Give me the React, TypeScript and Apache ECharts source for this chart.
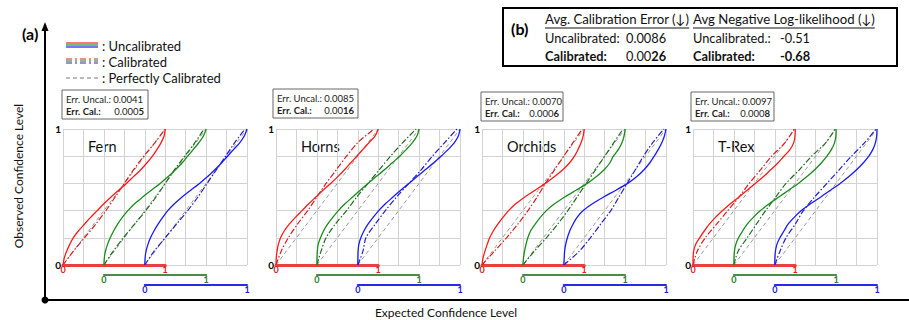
import React, { useEffect, useRef } from 'react';
import * as echarts from 'echarts';

const FONT = 'Lato, "Open Sans", sans-serif';

// Observed confidence levels (y values) for the uncalibrated curves
const OBS_UNCAL = [0, 0.05, 0.1, 0.15, 0.2, 0.25, 0.3, 0.35, 0.4, 0.45, 0.5, 0.55, 0.6, 0.65, 0.7, 0.75, 0.8, 0.85, 0.9, 0.95, 1];
// Observed confidence levels (y values) for the calibrated curves
const OBS_CAL = [0, 0.1, 0.2, 0.3, 0.4, 0.5, 0.6, 0.7, 0.8, 0.9, 1];

// Expected confidence (x values) at each observed level
const fernUncalR = [0, 0.012, 0.035, 0.065, 0.1, 0.15, 0.21, 0.27, 0.335, 0.4, 0.47, 0.545, 0.62, 0.69, 0.76, 0.82, 0.875, 0.92, 0.96, 0.99, 1];
const fernUncalG = [0, 0.004, 0.015, 0.035, 0.062, 0.095, 0.135, 0.18, 0.235, 0.3, 0.38, 0.465, 0.55, 0.63, 0.7, 0.765, 0.82, 0.875, 0.93, 0.975, 1];
const fernUncalB = [0, 0.003, 0.012, 0.03, 0.056, 0.09, 0.13, 0.175, 0.225, 0.29, 0.365, 0.45, 0.535, 0.615, 0.685, 0.75, 0.81, 0.87, 0.93, 0.975, 1];
const fernCalR = [0, 0.1, 0.21, 0.32, 0.42, 0.51, 0.6, 0.69, 0.79, 0.9, 1];
const fernCalG = [0, 0.09, 0.19, 0.3, 0.41, 0.51, 0.6, 0.69, 0.79, 0.89, 0.98];
const fernCalB = [0, 0.09, 0.2, 0.31, 0.42, 0.52, 0.61, 0.7, 0.79, 0.88, 0.98];

const hornsUncalR = [0, 0.002, 0.01, 0.022, 0.045, 0.08, 0.13, 0.19, 0.255, 0.32, 0.39, 0.46, 0.535, 0.605, 0.67, 0.73, 0.79, 0.85, 0.91, 0.97, 1];
const hornsUncalG = [0, 0.001, 0.004, 0.012, 0.035, 0.065, 0.105, 0.155, 0.21, 0.275, 0.35, 0.425, 0.5, 0.58, 0.66, 0.735, 0.81, 0.875, 0.935, 0.98, 1];
const hornsUncalB = [0, 0.001, 0.003, 0.01, 0.03, 0.06, 0.1, 0.15, 0.205, 0.27, 0.345, 0.42, 0.5, 0.58, 0.66, 0.74, 0.815, 0.885, 0.945, 0.985, 1];
const hornsCalR = [0, 0.05, 0.12, 0.21, 0.31, 0.4, 0.49, 0.59, 0.69, 0.8, 0.96];
const hornsCalG = [0, 0.04, 0.09, 0.18, 0.29, 0.39, 0.5, 0.61, 0.72, 0.84, 0.97];
const hornsCalB = [0, 0.05, 0.08, 0.17, 0.27, 0.38, 0.5, 0.62, 0.73, 0.85, 0.97];

const orchidsUncalR = [0, 0.01, 0.028, 0.05, 0.075, 0.11, 0.155, 0.205, 0.26, 0.33, 0.42, 0.52, 0.62, 0.71, 0.79, 0.855, 0.905, 0.94, 0.97, 0.99, 1];
const orchidsUncalG = [0, 0.006, 0.016, 0.03, 0.048, 0.075, 0.12, 0.17, 0.23, 0.31, 0.41, 0.52, 0.63, 0.72, 0.795, 0.85, 0.885, 0.935, 0.97, 0.99, 1];
const orchidsUncalB = [0, 0.004, 0.008, 0.018, 0.035, 0.058, 0.09, 0.13, 0.19, 0.28, 0.39, 0.51, 0.625, 0.715, 0.785, 0.84, 0.885, 0.925, 0.96, 0.985, 1];
const orchidsCalR = [0, 0.12, 0.24, 0.35, 0.45, 0.54, 0.62, 0.71, 0.8, 0.89, 0.98];
const orchidsCalG = [0, 0.11, 0.23, 0.34, 0.44, 0.53, 0.62, 0.71, 0.8, 0.89, 0.98];
const orchidsCalB = [0, 0.15, 0.26, 0.36, 0.46, 0.54, 0.62, 0.7, 0.78, 0.87, 0.98];

const trexUncalR = [0, 0.001, 0.006, 0.025, 0.065, 0.11, 0.16, 0.22, 0.29, 0.365, 0.45, 0.53, 0.61, 0.69, 0.76, 0.83, 0.89, 0.95, 0.985, 0.998, 1];
const trexUncalG = [0, 0.001, 0.005, 0.018, 0.045, 0.085, 0.13, 0.19, 0.26, 0.345, 0.44, 0.535, 0.63, 0.715, 0.79, 0.855, 0.91, 0.955, 0.985, 0.998, 1];
const trexUncalB = [0, 0.001, 0.006, 0.02, 0.05, 0.09, 0.13, 0.19, 0.26, 0.35, 0.45, 0.545, 0.64, 0.725, 0.8, 0.865, 0.92, 0.96, 0.985, 0.997, 1];
const trexCalR = [0, 0.04, 0.12, 0.23, 0.34, 0.45, 0.55, 0.66, 0.77, 0.9, 0.99];
const trexCalG = [0, 0.04, 0.13, 0.22, 0.31, 0.41, 0.51, 0.64, 0.76, 0.9, 0.99];
const trexCalB = [0, 0.05, 0.11, 0.2, 0.28, 0.39, 0.51, 0.63, 0.75, 0.88, 0.99];

// Perfect calibration diagonal
const PERFECT_X = [0, 1];
const PERFECT_Y = [0, 1];

const SCENES = ['Fern', 'Horns', 'Orchids', 'T-Rex'];
const ERR_UNCAL = ['0.0041', '0.0085', '0.0070', '0.0097'];
const ERR_CAL = ['0.0005', '0.0016', '0.0006', '0.0008'];
const ERR_CAL_BOLD_DIGITS = [1, 2, 1, 1];

const AVG_CAL_ERR_UNCAL = '0.0086';
const AVG_CAL_ERR_CAL = '0.0026';
const AVG_NLL_UNCAL = '-0.51';
const AVG_NLL_CAL = '-0.68';

const AXIS_TICKS = [0, 1];

const UNCAL = [
  [fernUncalR, fernUncalG, fernUncalB],
  [hornsUncalR, hornsUncalG, hornsUncalB],
  [orchidsUncalR, orchidsUncalG, orchidsUncalB],
  [trexUncalR, trexUncalG, trexUncalB],
];
const CAL = [
  [fernCalR, fernCalG, fernCalB],
  [hornsCalR, hornsCalG, hornsCalB],
  [orchidsCalR, orchidsCalG, orchidsCalB],
  [trexCalR, trexCalG, trexCalB],
];

const UNCAL_COLORS = ['#ff1a1a', '#1a8c1a', '#1a1aff'];
const CAL_COLORS = ['#d42020', '#1e6e1e', '#2222cc'];
const AXIS_COLORS = ['#e84040', '#4e8a4e', '#2a2ae0'];
const AXIS_WIDTHS = [3, 2, 2];
const LABEL_COLORS = ['#e02020', '#2e7d2e', '#1a1ad0'];

const PANEL_LEFT = [63, 276, 482, 693];
const PANEL_TOP = 129;
const PANEL_W = 184;
const PANEL_H = 136;
const BOXES = [
  { x: 62, y: 90, w: 86 },
  { x: 273, y: 89, w: 85 },
  { x: 481, y: 92, w: 82 },
  { x: 691, y: 92, w: 83 },
];

function measure(text: string, font: string) {
  const c = document.createElement('canvas').getContext('2d')!;
  c.font = font;
  return c.measureText(text).width;
}

function toPairs(xs: number[], ys: number[]) {
  return xs.map((x, i) => [x, ys[i]]);
}

function buildOption() {
  const grid: any[] = [];
  const xAxis: any[] = [];
  const yAxis: any[] = [];
  const series: any[] = [];
  const graphic: any[] = [];

  SCENES.forEach((name, p) => {
    const L = PANEL_LEFT[p];
    const bg = grid.length;
    grid.push({ left: L, top: PANEL_TOP, width: PANEL_W, height: PANEL_H });
    xAxis.push({
      gridIndex: bg, type: 'value', min: 0, max: 9, interval: 1,
      axisLine: { show: false }, axisTick: { show: false }, axisLabel: { show: false },
      splitLine: { show: true, lineStyle: { color: '#d3d3d3', width: 1 } },
    });
    yAxis.push({
      gridIndex: bg, type: 'value', min: 0, max: 1, interval: 0.2,
      axisLine: { show: false }, axisTick: { show: false },
      axisLabel: {
        show: true, margin: 2, fontSize: 10, fontWeight: 'bold', color: '#000', fontFamily: FONT,
        formatter: (v: number) => (v === 0 ? '0' : v === 1 ? '1' : ''),
      },
      splitLine: { show: true, lineStyle: { color: '#d3d3d3', width: 1 } },
    });

    for (let c = 0; c < 3; c++) {
      const gi = grid.length;
      grid.push({
        left: L + (PANEL_W * 2 * c) / 9,
        top: PANEL_TOP,
        width: (PANEL_W * 5) / 9,
        height: PANEL_H,
      });
      xAxis.push({
        gridIndex: gi, type: 'value', min: AXIS_TICKS[0], max: AXIS_TICKS[1], interval: 1,
        position: 'bottom', offset: c * 10,
        axisLine: { show: true, onZero: false, lineStyle: { color: AXIS_COLORS[c], width: AXIS_WIDTHS[c] } },
        axisTick: { show: false },
        axisLabel: {
          show: true, margin: 0, fontSize: 9, fontWeight: 'bold', color: LABEL_COLORS[c],
          fontFamily: FONT, showMinLabel: true, showMaxLabel: true,
        },
        splitLine: { show: false },
      });
      yAxis.push({ gridIndex: gi, type: 'value', min: 0, max: 1, show: false });

      series.push({
        type: 'line', xAxisIndex: gi, yAxisIndex: gi, showSymbol: false, silent: true,
        data: toPairs(PERFECT_X, PERFECT_Y), z: 2,
        lineStyle: { color: '#9a9a9a', width: 1, type: [4, 3] },
      });
      series.push({
        type: 'line', xAxisIndex: gi, yAxisIndex: gi, showSymbol: false, silent: true,
        smooth: 0.3, data: toPairs(CAL[p][c], OBS_CAL), z: 3,
        lineStyle: { color: CAL_COLORS[c], width: 1.2, type: [6, 2, 1.5, 2] },
      });
      series.push({
        type: 'line', xAxisIndex: gi, yAxisIndex: gi, showSymbol: false, silent: true,
        smooth: 0.3, data: toPairs(UNCAL[p][c], OBS_UNCAL), z: 4,
        lineStyle: { color: UNCAL_COLORS[c], width: 1.3 },
      });
    }

    graphic.push({
      type: 'text', x: L + 25, y: 146,
      style: { text: name, fontSize: 14.5, fontFamily: FONT, fill: '#111', verticalAlign: 'middle' },
    });
    const b = BOXES[p];
    const bfs = 9.5;
    graphic.push({
      type: 'rect', shape: { x: b.x, y: b.y, width: b.w, height: 29 },
      style: { fill: '#fff', stroke: '#666', lineWidth: 1 },
    });
    graphic.push({
      type: 'text', x: b.x + 4, y: b.y + 9,
      style: { text: 'Err. Uncal.: ' + ERR_UNCAL[p], fontSize: bfs, fontFamily: FONT, fill: '#222', verticalAlign: 'middle' },
    });
    graphic.push({
      type: 'text', x: b.x + 4, y: b.y + 21,
      style: { text: 'Err. Cal.:', fontSize: bfs, fontWeight: 'bold', fontFamily: FONT, fill: '#222', verticalAlign: 'middle' },
    });
    const v = ERR_CAL[p];
    const nb = ERR_CAL_BOLD_DIGITS[p];
    graphic.push({
      type: 'text', x: b.x + b.w - 4, y: b.y + 21,
      style: {
        text: '{n|' + v.slice(0, v.length - nb) + '}{b|' + v.slice(v.length - nb) + '}',
        align: 'right', verticalAlign: 'middle',
        rich: {
          n: { fontSize: bfs, fontFamily: FONT, fill: '#222' },
          b: { fontSize: bfs, fontFamily: FONT, fontWeight: 'bold', fill: '#222' },
        },
      },
    });
  });

  graphic.push({ type: 'line', shape: { x1: 45, y1: 300, x2: 45, y2: 28 }, style: { stroke: '#000', lineWidth: 2 } });
  graphic.push({ type: 'polygon', shape: { points: [[41.5, 31], [48.5, 31], [45, 22]] }, style: { fill: '#000' } });
  graphic.push({ type: 'line', shape: { x1: 45, y1: 300, x2: 909, y2: 300 }, style: { stroke: '#000', lineWidth: 2 } });
  graphic.push({ type: 'circle', shape: { cx: 45, cy: 300, r: 3.5 }, style: { fill: '#000' } });
  graphic.push({
    type: 'text', x: 22, y: 33,
    style: { text: '(a)', fontSize: 16, fontWeight: 'bold', fontFamily: FONT, fill: '#000', verticalAlign: 'middle' },
  });
  graphic.push({
    type: 'text', x: 18, y: 176, rotation: Math.PI / 2,
    style: { text: 'Observed Confidence Level', fontSize: 12, fontFamily: FONT, fill: '#111', align: 'center', verticalAlign: 'middle' },
  });
  graphic.push({
    type: 'text', x: 446, y: 312,
    style: { text: 'Expected Confidence Level', fontSize: 12, fontFamily: FONT, fill: '#111', align: 'center', verticalAlign: 'middle' },
  });

  const legendRows = [46, 62, 78];
  [0, 1, 2].forEach((c) => {
    graphic.push({ type: 'line', shape: { x1: 66, y1: legendRows[0] - 3 + c * 2, x2: 98, y2: legendRows[0] - 3 + c * 2 }, style: { stroke: UNCAL_COLORS[c], lineWidth: 1.2 } });
    graphic.push({ type: 'line', shape: { x1: 66, y1: legendRows[1] - 3 + c * 2, x2: 98, y2: legendRows[1] - 3 + c * 2 }, style: { stroke: CAL_COLORS[c], lineWidth: 1.2, lineDash: [6, 3, 2, 3] } });
  });
  graphic.push({ type: 'line', shape: { x1: 66, y1: legendRows[2], x2: 98, y2: legendRows[2] }, style: { stroke: '#777', lineWidth: 1, lineDash: [4, 3] } });
  [': Uncalibrated', ': Calibrated', ': Perfectly Calibrated'].forEach((t, i) => {
    graphic.push({ type: 'text', x: 102, y: legendRows[i], style: { text: t, fontSize: 13, fontFamily: FONT, fill: '#111', verticalAlign: 'middle' } });
  });

  graphic.push({ type: 'rect', shape: { x: 503, y: 8, width: 394, height: 58 }, style: { fill: '#fff', stroke: '#000', lineWidth: 2 } });
  graphic.push({ type: 'text', x: 511, y: 28, style: { text: '(b)', fontSize: 16, fontWeight: 'bold', fontFamily: FONT, fill: '#000', verticalAlign: 'middle' } });
  const hfs = 13.2;
  const fs = 12.8;
  const h1 = 'Avg. Calibration Error (↓)';
  const h2 = 'Avg Negative Log-likelihood (↓)';
  const c1 = 545;
  const c2 = 693;
  [[h1, c1], [h2, c2]].forEach(([t, x]) => {
    graphic.push({ type: 'text', x, y: 19, style: { text: t, fontSize: hfs, fontFamily: FONT, fill: '#111', verticalAlign: 'middle' } });
    const w = measure(t as string, `${hfs}px ${FONT}`);
    graphic.push({ type: 'line', shape: { x1: x, y1: 28, x2: (x as number) + w, y2: 28 }, style: { stroke: '#111', lineWidth: 1 } });
  });
  const row2 = 38;
  const row3 = 56;
  graphic.push({ type: 'text', x: c1, y: row2, style: { text: 'Uncalibrated:', fontSize: fs, fontFamily: FONT, fill: '#111', verticalAlign: 'middle' } });
  graphic.push({ type: 'text', x: 626, y: row2, style: { text: AVG_CAL_ERR_UNCAL, fontSize: fs, fontFamily: FONT, fill: '#111', verticalAlign: 'middle' } });
  graphic.push({ type: 'text', x: c1, y: row3, style: { text: 'Calibrated:', fontSize: fs, fontWeight: 'bold', fontFamily: FONT, fill: '#111', verticalAlign: 'middle' } });
  graphic.push({
    type: 'text', x: 626, y: row3,
    style: {
      text: '{n|' + AVG_CAL_ERR_CAL.slice(0, 4) + '}{b|' + AVG_CAL_ERR_CAL.slice(4) + '}', verticalAlign: 'middle',
      rich: {
        n: { fontSize: fs, fontFamily: FONT, fill: '#111' },
        b: { fontSize: fs, fontFamily: FONT, fontWeight: 'bold', fill: '#111' },
      },
    },
  });
  graphic.push({ type: 'text', x: c2, y: row2, style: { text: 'Uncalibrated.:', fontSize: fs, fontFamily: FONT, fill: '#111', verticalAlign: 'middle' } });
  graphic.push({ type: 'text', x: 780, y: row2, style: { text: AVG_NLL_UNCAL, fontSize: fs, fontFamily: FONT, fill: '#111', verticalAlign: 'middle' } });
  graphic.push({ type: 'text', x: c2, y: row3, style: { text: 'Calibrated:', fontSize: fs, fontWeight: 'bold', fontFamily: FONT, fill: '#111', verticalAlign: 'middle' } });
  graphic.push({ type: 'text', x: 780, y: row3, style: { text: AVG_NLL_CAL, fontSize: fs, fontWeight: 'bold', fontFamily: FONT, fill: '#111', verticalAlign: 'middle' } });

  return {
    animation: false,
    backgroundColor: '#fff',
    grid, xAxis, yAxis, series, graphic,
  };
}

export default function App() {
  const ref = useRef<HTMLDivElement>(null);
  useEffect(() => {
    const chart = echarts.init(ref.current!, null, { renderer: 'svg' });
    chart.setOption(buildOption() as any);
    return () => chart.dispose();
  }, []);
  return (
    <div
      ref={ref}
      style={{ position: 'fixed', left: 0, top: 0, width: 909, height: 320, background: '#fff' }}
    />
  );
}
